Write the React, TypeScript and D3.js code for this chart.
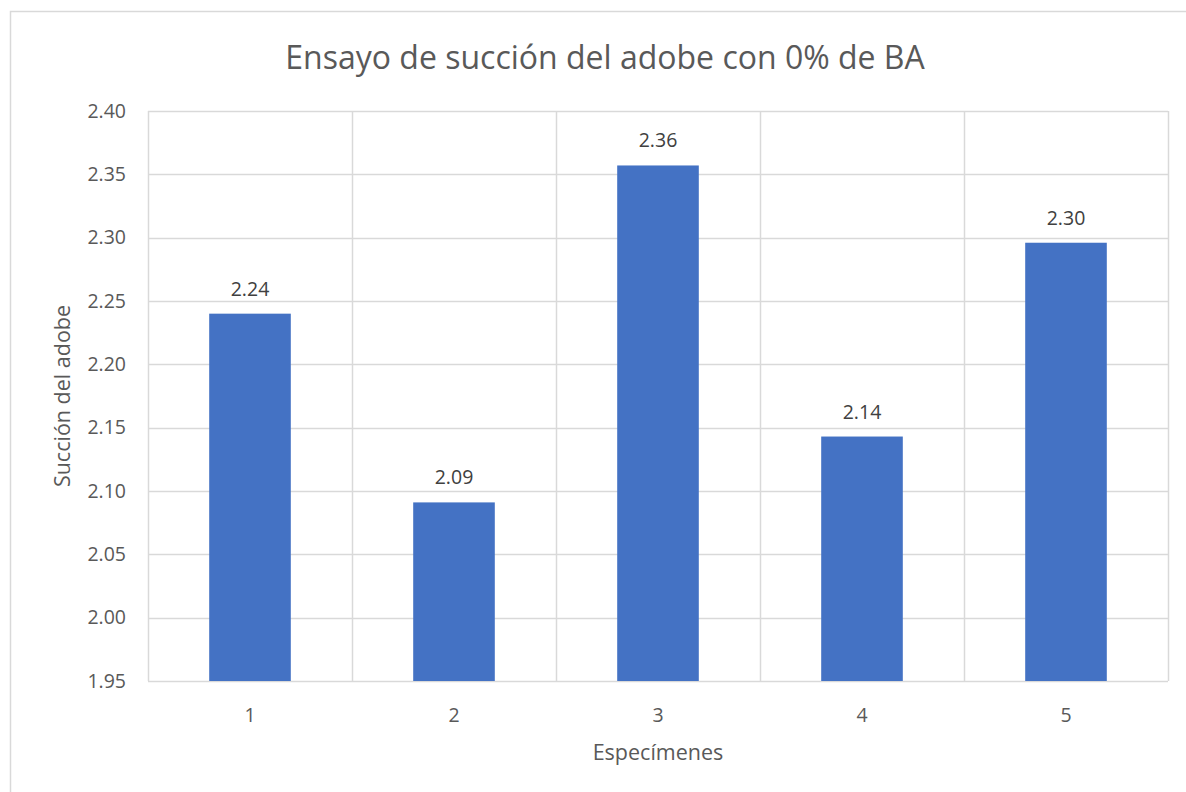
import React, { useEffect, useRef } from 'react';
import * as d3 from 'd3';

// chart data
const specimens = ['1', '2', '3', '4', '5'];
const suction = [2.24, 2.091, 2.357, 2.143, 2.296];
const yTicks = [1.95, 2.0, 2.05, 2.1, 2.15, 2.2, 2.25, 2.3, 2.35, 2.4];

const title = 'Ensayo de succión del adobe con 0% de BA';
const xTitle = 'Especímenes';
const yTitle = 'Succión del adobe';

const width = 1186;
const height = 792;
const margin = { top: 111, right: 18, bottom: 111, left: 148 };
const font = "'Open Sans', 'Liberation Sans', sans-serif";
const textColor = '#595959';
const gridColor = '#d9d9d9';

const App: React.FC = () => {
  const svgRef = useRef<SVGSVGElement>(null);

  useEffect(() => {
    if (!svgRef.current) return;
    const svg = d3.select(svgRef.current);
    svg.selectAll('*').remove();

    const innerWidth = width - margin.left - margin.right;
    const innerHeight = height - margin.top - margin.bottom;

    svg.append('rect')
      .attr('width', width)
      .attr('height', height)
      .attr('fill', '#fff');

    // outer chart border
    svg.append('rect')
      .attr('x', 10.5)
      .attr('y', 11.5)
      .attr('width', width)
      .attr('height', height)
      .attr('fill', 'none')
      .attr('stroke', gridColor)
      .attr('stroke-width', 1.5);

    const xScale = d3.scaleBand<string>()
      .domain(specimens)
      .range([0, innerWidth])
      .paddingInner(0.6)
      .paddingOuter(0.3);

    const yScale = d3.scaleLinear()
      .domain([1.95, 2.4])
      .range([innerHeight, 0]);

    const g = svg.append('g')
      .attr('transform', `translate(${margin.left},${margin.top})`);

    // horizontal gridlines
    g.selectAll('.hgrid')
      .data(yTicks)
      .enter()
      .append('line')
      .attr('x1', 0)
      .attr('x2', innerWidth)
      .attr('y1', (d) => Math.round(yScale(d)) + 0.5)
      .attr('y2', (d) => Math.round(yScale(d)) + 0.5)
      .attr('stroke', gridColor)
      .attr('stroke-width', 1.5);

    // vertical gridlines at category boundaries
    const step = innerWidth / specimens.length;
    g.selectAll('.vgrid')
      .data(d3.range(specimens.length + 1))
      .enter()
      .append('line')
      .attr('x1', (i) => Math.round(i * step) + 0.5)
      .attr('x2', (i) => Math.round(i * step) + 0.5)
      .attr('y1', 0)
      .attr('y2', innerHeight)
      .attr('stroke', gridColor)
      .attr('stroke-width', 1.5);

    // bars
    g.selectAll('.bar')
      .data(suction)
      .enter()
      .append('rect')
      .attr('x', (d, i) => xScale(specimens[i]) as number)
      .attr('y', (d) => yScale(d))
      .attr('width', xScale.bandwidth())
      .attr('height', (d) => innerHeight - yScale(d))
      .attr('fill', '#4472c4');

    // data labels
    g.selectAll('.label')
      .data(suction)
      .enter()
      .append('text')
      .attr('x', (d, i) => (xScale(specimens[i]) as number) + xScale.bandwidth() / 2)
      .attr('y', (d) => yScale(d) - 18)
      .attr('text-anchor', 'middle')
      .attr('font-family', font)
      .attr('font-size', 19.5)
      .attr('fill', '#404040')
      .text((d) => d.toFixed(2));

    // y tick labels
    g.selectAll('.ytick')
      .data(yTicks)
      .enter()
      .append('text')
      .attr('x', -22)
      .attr('y', (d) => yScale(d))
      .attr('dy', '0.35em')
      .attr('text-anchor', 'end')
      .attr('font-family', font)
      .attr('font-size', 19.5)
      .attr('fill', textColor)
      .text((d) => d.toFixed(2));

    // x tick labels
    g.selectAll('.xtick')
      .data(specimens)
      .enter()
      .append('text')
      .attr('x', (d) => (xScale(d) as number) + xScale.bandwidth() / 2)
      .attr('y', innerHeight + 34)
      .attr('dy', '0.35em')
      .attr('text-anchor', 'middle')
      .attr('font-family', font)
      .attr('font-size', 19.5)
      .attr('fill', textColor)
      .text((d) => d);

    // title
    svg.append('text')
      .attr('x', 605)
      .attr('y', 58)
      .attr('dy', '0.35em')
      .attr('text-anchor', 'middle')
      .attr('font-family', font)
      .attr('font-size', 32)
      .attr('fill', textColor)
      .text(title);

    // axis titles
    svg.append('text')
      .attr('x', 658)
      .attr('y', 752)
      .attr('dy', '0.35em')
      .attr('text-anchor', 'middle')
      .attr('font-family', font)
      .attr('font-size', 21.5)
      .attr('fill', textColor)
      .text(xTitle);

    svg.append('text')
      .attr('transform', 'translate(62,396) rotate(-90)')
      .attr('dy', '0.35em')
      .attr('text-anchor', 'middle')
      .attr('font-family', font)
      .attr('font-size', 21.5)
      .attr('fill', textColor)
      .text(yTitle);
  }, []);

  return (
    <svg
      ref={svgRef}
      width={width}
      height={height}
      style={{ position: 'absolute', left: 0, top: 0 }}
    />
  );
};

export default App;
